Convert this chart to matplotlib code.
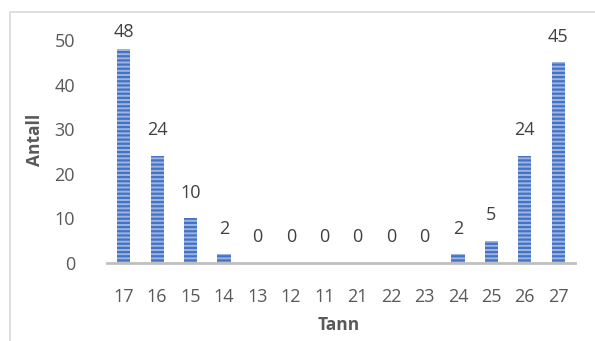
import matplotlib
matplotlib.use("Agg")
import matplotlib.pyplot as plt
from matplotlib.patches import Rectangle

# tooth number vs count
teeth = ["17", "16", "15", "14", "13", "12", "11", "21", "22", "23", "24", "25", "26", "27"]
counts = [48, 24, 10, 2, 0, 0, 0, 0, 0, 0, 2, 5, 24, 45]
yticks = [0, 10, 20, 30, 40, 50]

TXT = "#595959"
plt.rcParams["font.family"] = ["Open Sans", "DejaVu Sans"]
plt.rcParams["hatch.linewidth"] = 1.6

fig = plt.figure(figsize=(5.95, 3.41), dpi=100)
fig.patch.set_facecolor("white")
ax = fig.add_axes([107 / 595, 1 - 263 / 341, 468 / 595, 223 / 341])

x = range(len(teeth))
ax.bar(x, counts, width=0.39, color="#9DB5E0", edgecolor="#4472C4",
       linewidth=0, hatch="----", zorder=2)

# value labels above bars, kept inside the top of the plot area
for xi, v in zip(x, counts):
    ax.text(xi, min(v + 3.7, 49.8), str(v), ha="center", va="bottom",
            fontsize=13, color="#404040", clip_on=False)

ax.set_xlim(-0.5, len(teeth) - 0.5)
ax.set_ylim(0, 50)
ax.set_xticks(list(x))
ax.set_xticklabels(teeth)
ax.set_yticks(yticks)

for s in ["top", "right", "left"]:
    ax.spines[s].set_visible(False)
ax.spines["bottom"].set_color("#BFBFBF")
ax.spines["bottom"].set_linewidth(2)
ax.spines["bottom"].set_zorder(3)
ax.tick_params(axis="x", length=0, pad=18, labelsize=13, labelcolor=TXT)
ax.tick_params(axis="y", length=0, pad=23, labelsize=13, labelcolor=TXT)

fig.text(35 / 595, 1 - 140 / 341, "Antall", rotation=90, ha="center",
         va="center", fontsize=12.5, fontweight="bold", color=TXT)
fig.text(339 / 595, 1 - 325 / 341, "Tann", ha="center", va="center",
         fontsize=12.5, fontweight="bold", color=TXT)

# chart area border
fig.patches.append(Rectangle((10 / 595, -0.1), 1.0, 1 - 12 / 341 + 0.1,
                             transform=fig.transFigure, fill=False,
                             edgecolor="#D9D9D9", linewidth=1.2))

fig.savefig("out.png", dpi=100, facecolor="white")
